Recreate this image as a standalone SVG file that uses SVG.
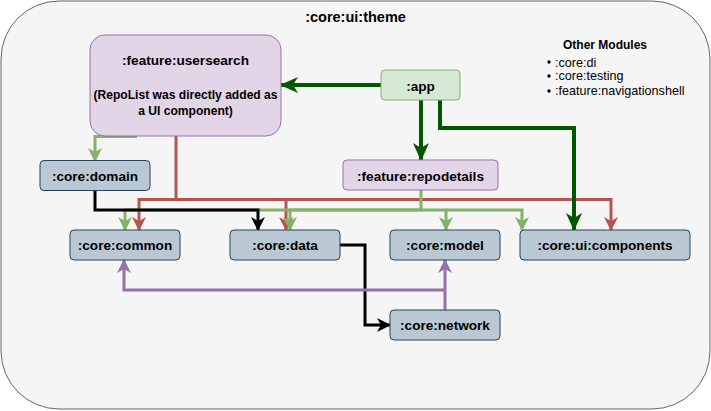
<svg xmlns="http://www.w3.org/2000/svg" width="711" height="411" viewBox="0 0 711 411">
<style>
.lbl{font-family:"Liberation Sans",Arial,sans-serif;font-weight:bold;font-size:13.6px;fill:#000;text-anchor:middle;dominant-baseline:central}
.sub{font-size:12.1px}
.ttl{font-size:14.5px}
.mod{fill:#bac8d3;stroke:#23445d;stroke-width:1}
.feat{fill:#e1d5e7;stroke:#9673a6;stroke-width:1}
.c{fill:none;stroke-linejoin:miter}
.dg{stroke:#005700;stroke-width:4}
.g{stroke:#82b366;stroke-width:3}
.r{stroke:#b85450;stroke-width:3}
.k{stroke:#000;stroke-width:3}
.p{stroke:#9673a6;stroke-width:3}
.small{font-family:"Liberation Sans",Arial,sans-serif;font-size:12.6px;fill:#000}
</style>
<defs>
<marker id="aDG" markerUnits="userSpaceOnUse" markerWidth="18" markerHeight="16" viewBox="0 0 18 16" refX="17" refY="8" orient="auto"><path d="M0,0 L18,8 L0,16 L5,8 Z" fill="#005700"/></marker>
<marker id="aG" markerUnits="userSpaceOnUse" markerWidth="14" markerHeight="14" viewBox="0 0 14 14" refX="13" refY="7" orient="auto"><path d="M0,0 L14,7 L0,14 L4,7 Z" fill="#82b366"/></marker>
<marker id="aR" markerUnits="userSpaceOnUse" markerWidth="14" markerHeight="14" viewBox="0 0 14 14" refX="13" refY="7" orient="auto"><path d="M0,0 L14,7 L0,14 L4,7 Z" fill="#b85450"/></marker>
<marker id="aK" markerUnits="userSpaceOnUse" markerWidth="14" markerHeight="14" viewBox="0 0 14 14" refX="13" refY="7" orient="auto"><path d="M0,0 L14,7 L0,14 L4,7 Z" fill="#000"/></marker>
<marker id="aP" markerUnits="userSpaceOnUse" markerWidth="14" markerHeight="14" viewBox="0 0 14 14" refX="13" refY="7" orient="auto"><path d="M0,0 L14,7 L0,14 L4,7 Z" fill="#9673a6"/></marker>
</defs>

<g id="theme">
<rect x="1" y="1" width="709" height="408" rx="58" ry="58" fill="#f5f5f5" stroke="#666666" stroke-width="1"/>
<text class="lbl ttl" x="355.5" y="17">:core:ui:theme</text>
</g>

<g id="other-modules">
<text x="563" y="49" font-family="'Liberation Sans',Arial,sans-serif" font-weight="bold" font-size="12" fill="#000">Other Modules</text>
<circle cx="549" cy="62" r="1.7" fill="#000"/>
<circle cx="549" cy="76" r="1.7" fill="#000"/>
<circle cx="549" cy="91" r="1.7" fill="#000"/>
<text class="small" x="555" y="66.5">:core:di</text>
<text class="small" x="555" y="80">:core:testing</text>
<text class="small" x="555" y="95">:feature:navigationshell</text>
</g>

<g id="connectors">
<path class="c r" d="M176,136 L176,199.5 L139,199.5 L139,230" marker-end="url(#aR)"/>
<path class="c r" d="M176,199.5 L286,199.5 L286,230" marker-end="url(#aR)"/>
<path class="c r" d="M286,199.5 L611,199.5 L611,230" marker-end="url(#aR)"/>
<path class="c g" d="M137,136.5 L95,136.5 L95,161" marker-end="url(#aG)"/>
<path class="c g" d="M421,190 L421,210 L125,210 L125,230" marker-end="url(#aG)"/>
<path class="c g" d="M421,210 L290,210 L290,230" marker-end="url(#aG)"/>
<path class="c g" d="M421,210 L446,210 L446,230" marker-end="url(#aG)"/>
<path class="c g" d="M446,210 L522,210 L522,230" marker-end="url(#aG)"/>
<path class="c k" d="M95,190 L95,210 L258,210 L258,230" marker-end="url(#aK)"/>
<path class="c k" d="M340,245 L365,245 L365,325 L390,325" marker-end="url(#aK)"/>
<path class="c p" d="M445,310 L445,260" marker-end="url(#aP)"/>
<path class="c p" d="M445,290 L124,290 L124,260" marker-end="url(#aP)"/>
<path class="c dg" d="M381,85 L281,85" marker-end="url(#aDG)"/>
<path class="c dg" d="M421,100 L421,160" marker-end="url(#aDG)"/>
<path class="c dg" d="M440,100 L440,128 L574,128 L574,230" marker-end="url(#aDG)"/>
</g>

<g id="usersearch">
<rect class="feat" x="90" y="35" width="191" height="101" rx="15" ry="15"/>
<text class="lbl" x="185.5" y="60">:feature:usersearch</text>
<text class="lbl sub" x="185.5" y="95">(RepoList was directly added as</text>
<text class="lbl sub" x="185.5" y="111">a UI component)</text>
</g>

<g id="app">
<rect x="381" y="70" width="79" height="30" rx="4" ry="4" fill="#d5e8d4" stroke="#82b366" stroke-width="1"/>
<text class="lbl" x="420.5" y="86">:app</text>
</g>

<g id="repodetails">
<rect class="feat" x="343" y="160" width="155" height="30" rx="4" ry="4"/>
<text class="lbl" x="420.5" y="176">:feature:repodetails</text>
</g>

<g id="domain">
<rect class="mod" x="40" y="160.5" width="110" height="30" rx="4" ry="4"/>
<text class="lbl" x="95" y="176">:core:domain</text>
</g>

<g id="common">
<rect class="mod" x="70" y="230" width="110" height="30" rx="4" ry="4"/>
<text class="lbl" x="125" y="245.5">:core:common</text>
</g>

<g id="data">
<rect class="mod" x="230" y="230" width="110" height="30" rx="4" ry="4"/>
<text class="lbl" x="285" y="245.5">:core:data</text>
</g>

<g id="model">
<rect class="mod" x="390" y="230" width="110" height="30" rx="4" ry="4"/>
<text class="lbl" x="445" y="245.5">:core:model</text>
</g>

<g id="components">
<rect class="mod" x="520" y="230" width="170" height="30" rx="4" ry="4"/>
<text class="lbl" x="605" y="245.5">:core:ui:components</text>
</g>

<g id="network">
<rect class="mod" x="390" y="310" width="110" height="30" rx="4" ry="4"/>
<text class="lbl" x="445" y="325.5">:core:network</text>
</g>
</svg>
